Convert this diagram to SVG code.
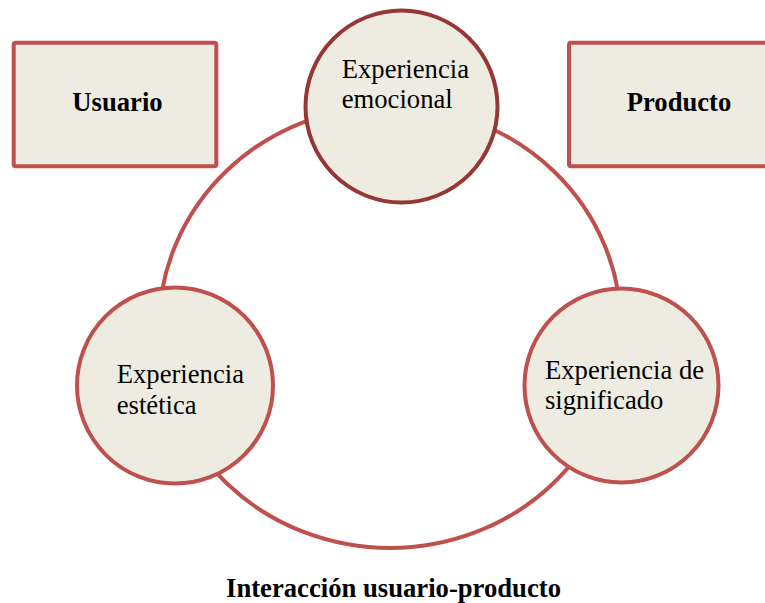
<svg xmlns="http://www.w3.org/2000/svg" width="765" height="603" viewBox="0 0 765 603">
<style>
.box{fill:#EEECE1;stroke:#C0504D;stroke-width:4}
.circ{fill:#EEECE1;stroke:#C0504D;stroke-width:4}
.circ-dark{fill:#EEECE1;stroke:#953735;stroke-width:4}
.ring{fill:none;stroke:#C0504D;stroke-width:4}
.t{font-family:"Liberation Serif","Times New Roman",serif;font-size:26.67px;fill:#000}
.b{font-weight:bold;text-anchor:middle}
</style>
<rect width="765" height="603" fill="#FFFFFF"/>
<g id="connectors">
<ellipse class="ring" cx="390" cy="327" rx="231" ry="221"/>
</g>
<g id="usuario">
<rect class="box" x="13.7" y="42.7" width="202.6" height="123.6" rx="2"/>
<text class="t b" x="117.5" y="111">Usuario</text>
</g>
<g id="producto">
<rect class="box" x="569" y="42.7" width="210" height="123.6" rx="2"/>
<text class="t b" x="679" y="111">Producto</text>
</g>
<g id="emocional">
<circle class="circ-dark" cx="401.5" cy="106.5" r="96"/>
<text class="t" x="341.7" y="78">Experiencia</text>
<text class="t" x="341.7" y="108.3">emocional</text>
</g>
<g id="estetica">
<circle class="circ" cx="175" cy="385.5" r="98"/>
<text class="t" x="116.7" y="382.7">Experiencia</text>
<text class="t" x="116.7" y="414">estética</text>
</g>
<g id="significado">
<circle class="circ" cx="621.5" cy="385.5" r="97"/>
<text class="t" x="545" y="379.3">Experiencia de</text>
<text class="t" x="545" y="409.3">significado</text>
</g>
<g id="title">
<text class="t b" x="393.5" y="597">Interacción usuario-producto</text>
</g>
</svg>
